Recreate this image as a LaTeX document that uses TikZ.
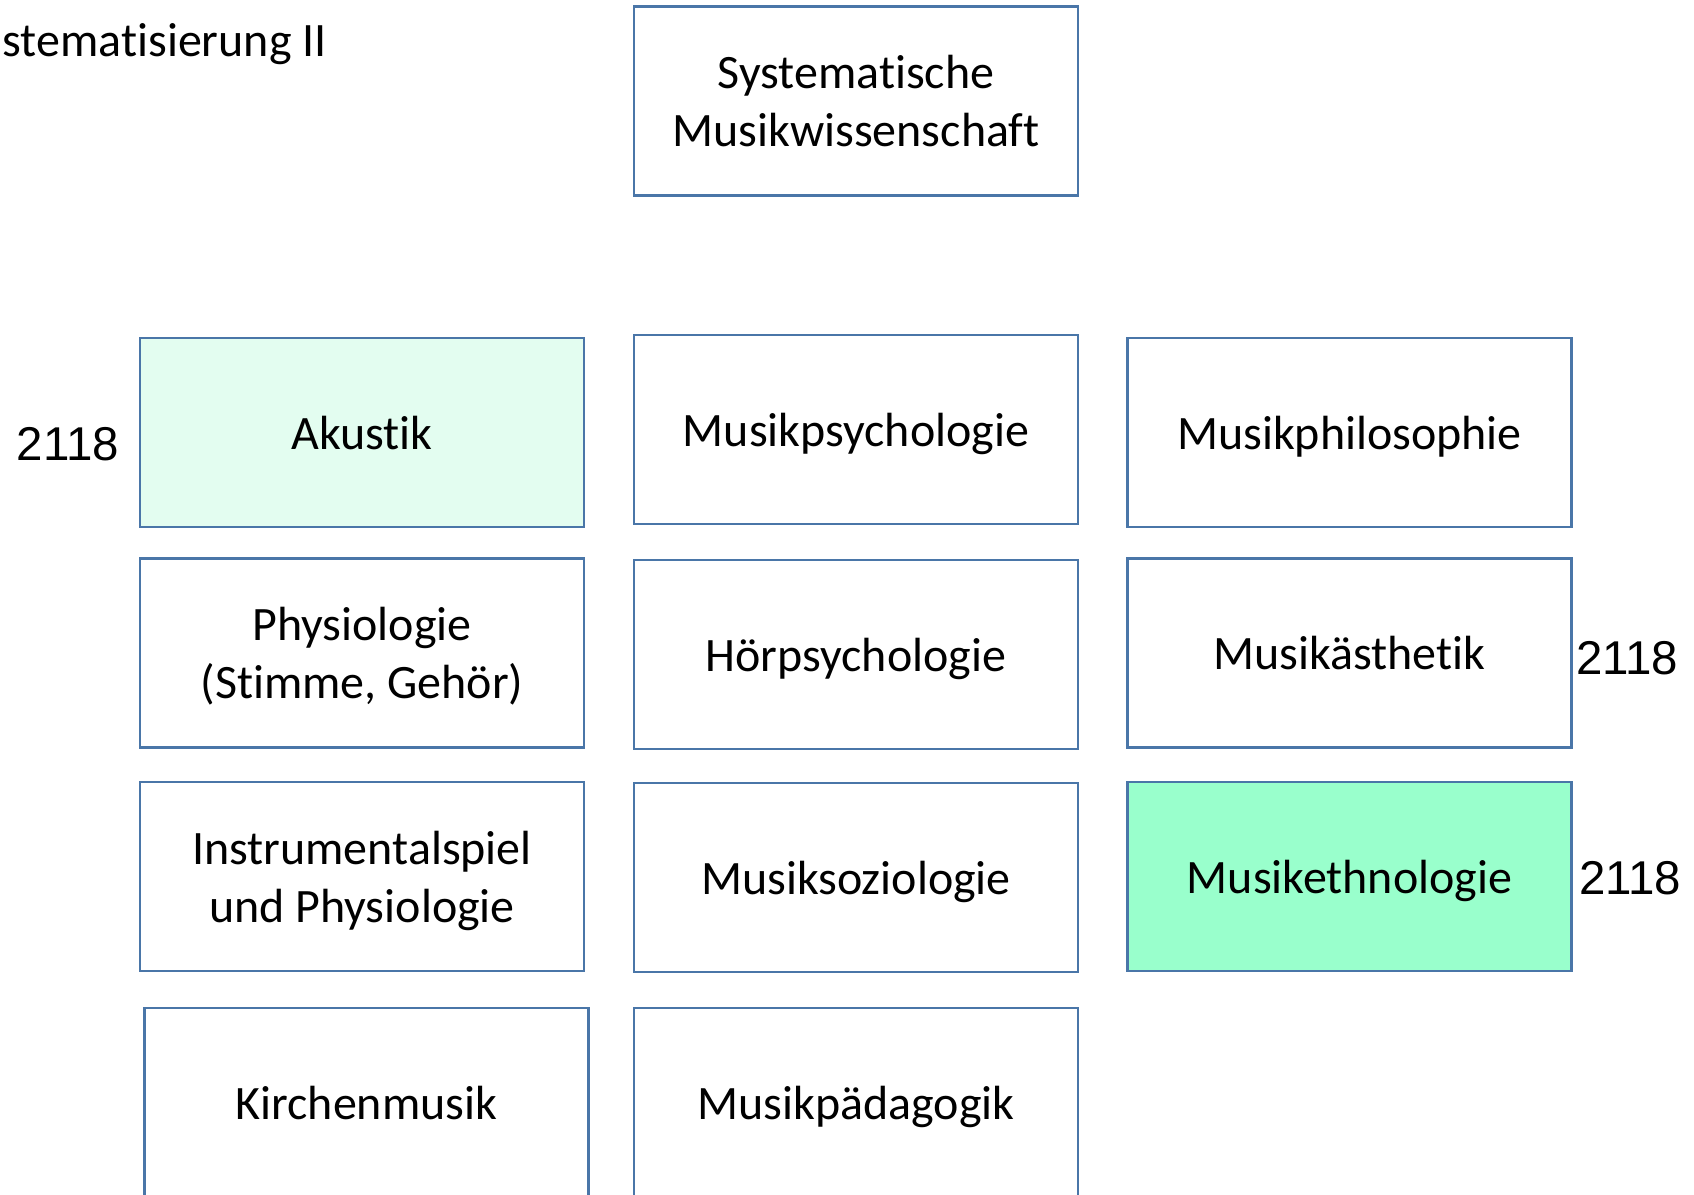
\documentclass[tikz,border=0pt]{standalone}
\usepackage{fontspec}
\setmainfont{Carlito}[Ligatures=NoCommon]
\newfontfamily\zahlfont{Liberation Sans}
\definecolor{rahmen}{RGB}{74,118,168}
\definecolor{hellmint}{RGB}{227,253,240}
\definecolor{mint}{RGB}{153,255,204}

\begin{document}
\begin{tikzpicture}[
		fach/.style={draw=rahmen, line width=0.8pt, minimum width=4.44cm, minimum height=1.89cm, inner sep=0pt, text depth=0pt, align=center, font=\fontsize{13.65}{16.5}\selectfont},
		zahl/.style={inner sep=0pt, font=\zahlfont\fontsize{13.5}{16}\selectfont}]
			\useasboundingbox (0, 0) rectangle (16.94, -11.95);
			
			\coordinate (top) at (8.56, -1.01);
			\coordinate (a1) at (3.62, -4.325);
			\coordinate (b1) at (8.56, -4.295);
			\coordinate (c1) at (13.495, -4.325);
			\coordinate (a2) at (3.62, -6.53);
			\coordinate (b2) at (8.56, -6.545);
			\coordinate (c2) at (13.495, -6.53);
			\coordinate (a3) at (3.62, -8.765);
			\coordinate (b3) at (8.56, -8.775);
			\coordinate (c3) at (13.495, -8.765);
			\coordinate (a4) at (3.664, -11.025);
			\coordinate (b4) at (8.56, -11.025);
			
			\node[anchor=west, inner sep=0pt, font=\fontsize{13.65}{16.5}\selectfont] (titel) at (0.02, -0.44) {stematisierung II};
			
			\node[fach] (sys) at (top) {Systematische\\Musikwissenschaft};
			
			\node[fach, fill=hellmint] (akustik) at (a1) {Akustik};
			\node[fach] (mpsych) at (b1) {Musikpsychologie};
			\node[fach] (mphil) at (c1) {Musikphilosophie};
			\node[fach] (physio) at (a2) {Physiologie\\(Stimme, Gehör)};
			\node[fach] (hoer) at (b2) {Hörpsychologie};
			\node[fach] (aesth) at (c2) {Musikästhetik};
			\node[fach] (instr) at (a3) {Instrumentalspiel\\und Physiologie};
			\node[fach] (soz) at (b3) {Musiksoziologie};
			\node[fach, fill=mint] (ethno) at (c3) {Musikethnologie};
			\node[fach] (kirche) at (a4) {Kirchenmusik};
			\node[fach] (paed) at (b4) {Musikpädagogik};
			
			\node[zahl] (nr1) at (0.68, -4.44) {2118};
			\node[zahl] (nr2) at (16.27, -6.58) {2118};
			\node[zahl] (nr3) at (16.30, -8.78) {2118};
		\end{tikzpicture}
\end{document}
